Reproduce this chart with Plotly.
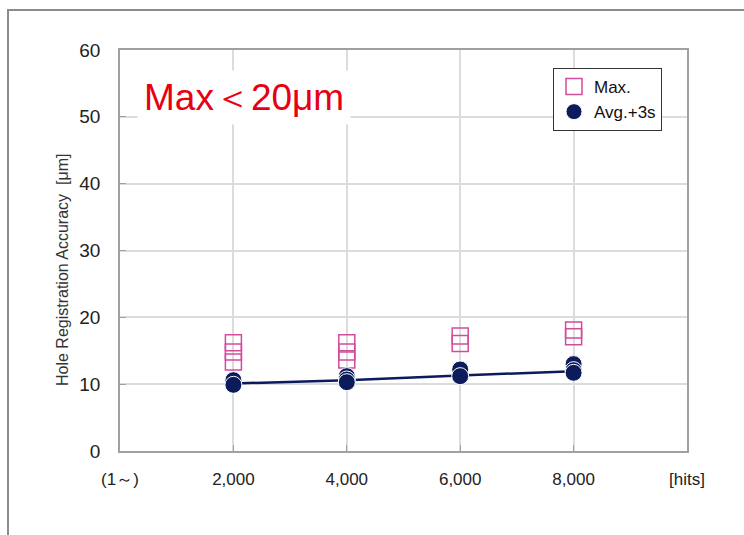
import plotly.graph_objects as go

# ---- data ----
tick_vals = [0, 2000, 4000, 6000, 8000, 10000]
tick_text = ["(1～)", "2,000", "4,000", "6,000", "8,000", "[hits]"]

max_x = [2000, 2000, 2000, 4000, 4000, 4000, 6000, 6000, 8000, 8000]
max_y = [16.2, 14.8, 13.3, 16.2, 14.8, 13.6, 17.2, 16.1, 18.1, 17.1]

avg_x = [2000, 2000, 4000, 4000, 4000, 6000, 6000, 8000, 8000, 8000]
avg_y = [10.6, 9.9, 11.2, 10.7, 10.3, 12.2, 11.2, 13.0, 12.1, 11.7]

trend_x = [2000, 4000, 6000, 8000]
trend_y = [10.1, 10.6, 11.3, 11.95]

NAVY = "#0b1b5c"
PINK = "#d24c9e"
FONT = "Arial, Liberation Sans, sans-serif"

fig = go.Figure()

fig.add_trace(go.Scatter(
    x=max_x, y=max_y, mode="markers", name="Max.",
    marker=dict(symbol="square-open", size=16, color=PINK, line=dict(width=1.5, color=PINK)),
))
fig.add_trace(go.Scatter(
    x=trend_x, y=trend_y, mode="lines", showlegend=False,
    line=dict(color=NAVY, width=2.5),
))
fig.add_trace(go.Scatter(
    x=avg_x, y=avg_y, mode="markers", name="Avg.+3s",
    marker=dict(symbol="circle", size=17, color=NAVY, line=dict(width=1, color="white")),
))

# body margin is removed below, so figure coords == page coords
W, H = 744, 535
ml, mt = 120, 50
mr = W - 687
mb = H - 451
pw, ph = W - ml - mr, H - mt - mb

def px(xp):
    return (xp - ml) / pw

def py(yp):
    return (H - mb - yp) / ph

fx0, fy0, fx1, fy1 = px(8), py(10), px(760), py(560)
frame_path = f"M {fx0},{fy1} L {fx0},{fy0} L {fx1},{fy0}"

fig.update_layout(
    width=W, height=H,
    margin=dict(l=ml, r=mr, t=mt, b=mb),
    paper_bgcolor="white", plot_bgcolor="white",
    font=dict(family=FONT, color="#222222"),
    showlegend=True,
    legend=dict(
        x=px(553), y=py(68), xanchor="left", yanchor="top",
        bgcolor="white", bordercolor="#333333", borderwidth=1,
        font=dict(size=17, color="#111111"),
        itemwidth=30, tracegroupgap=0,
    ),
    xaxis=dict(
        range=[0, 10000], tickvals=tick_vals, ticktext=tick_text,
        showgrid=True, gridcolor="#dcdcdc", gridwidth=1.5,
        showline=True, linecolor="#a0a0a0", linewidth=1.5, mirror=True,
        ticks="inside", ticklen=6, tickcolor="#a0a0a0",
        tickfont=dict(size=17, color="#222222"), ticklabelstandoff=12,
        zeroline=False,
    ),
    yaxis=dict(
        range=[0, 60], dtick=10,
        showgrid=True, gridcolor="#dcdcdc", gridwidth=1.5,
        showline=True, linecolor="#a0a0a0", linewidth=1.5, mirror=True,
        ticks="inside", ticklen=6, tickcolor="#a0a0a0",
        tickfont=dict(size=19, color="#222222"), ticklabelstandoff=14,
        zeroline=False,
    ),
    annotations=[
        dict(
            text="Max＜20μm", x=px(244), y=py(97), xref="paper", yref="paper",
            showarrow=False, font=dict(size=37, color="#e60012", family=FONT),
            bgcolor="white", borderpad=6, xanchor="center", yanchor="middle",
        ),
        dict(
            text="Hole Registration Accuracy  [μm]", x=px(62), y=py(270),
            xref="paper", yref="paper", showarrow=False, textangle=-90,
            font=dict(size=16, color="#333333", family=FONT),
            xanchor="center", yanchor="middle",
        ),
    ],
    shapes=[
        dict(type="path", xref="paper", yref="paper", path=frame_path,
             line=dict(color="#8c8c8c", width=2), layer="below"),
    ],
)

fig.write_html(
    "out.html",
    config={"displayModeBar": False},
    post_script="document.body.style.margin='0';document.body.style.overflow='hidden';",
)
